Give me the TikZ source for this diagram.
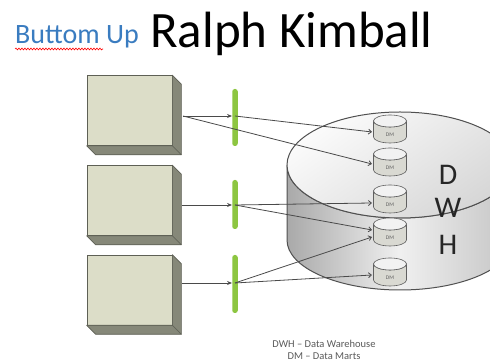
\documentclass[tikz,border=0pt]{standalone}
\usepackage{fontspec}
\setmainfont{Carlito}
\usetikzlibrary{arrows.meta,calc,decorations.pathmorphing}

\definecolor{titleblue}{HTML}{3A7CC0}
\definecolor{boxfront}{HTML}{DCDDC8}
\definecolor{boxside}{HTML}{868879}
\definecolor{boxline}{HTML}{5E6055}
\definecolor{bargreen}{HTML}{8DC641}
\definecolor{wire}{HTML}{4A4A4A}
\definecolor{cylline}{HTML}{505050}
\definecolor{cylleft}{HTML}{A9A9A9}
\definecolor{cylmid}{HTML}{F0F0F0}
\definecolor{cylright}{HTML}{C4C4C4}
\definecolor{toplight}{HTML}{FBFBFB}
\definecolor{topdark}{HTML}{D6D6D6}
\definecolor{dmbody}{HTML}{D9D9D2}
\definecolor{dmtop}{HTML}{F2F2F2}
\definecolor{dmline}{HTML}{606060}
\definecolor{foottext}{HTML}{5A5A5A}

\begin{document}
\begin{tikzpicture}[x=1pt,y=1pt,
  srcbox/.style={rectangle, minimum width=85pt, minimum height=70pt,
    inner sep=0pt, fill=boxfront, draw=boxline, line width=0.6pt},
  boxface/.style={fill=boxside, draw=boxline, line width=0.6pt, line join=round},
  gate/.style={rectangle, rounded corners=2.5pt, fill=bargreen,
    minimum width=5.5pt, inner sep=0pt},
  feed/.style={draw=wire, line width=0.8pt,
    -{Stealth[length=5pt,width=4pt]}},
  tap/.style={draw=wire, line width=0.8pt,
    -{Straight Barb[length=3pt,width=5pt]}},
  datamart/.style={rectangle, minimum width=35pt, minimum height=30pt,
    inner sep=0pt,
    path picture={
      \coordinate (mc) at (path picture bounding box.center);
      \filldraw[fill=dmbody, draw=dmline, line width=0.6pt]
        ([shift={(-16.5pt,8pt)}]mc) -- ++(0,-16pt)
        arc[start angle=180, end angle=360, x radius=16.5pt, y radius=6pt]
        -- ++(0,16pt)
        arc[start angle=0, end angle=-180, x radius=16.5pt, y radius=6pt]
        -- cycle;
      \filldraw[fill=dmtop, draw=dmline, line width=0.6pt]
        ([yshift=8pt]mc) ellipse[x radius=16.5pt, y radius=6pt];
    }},
  dmlabel/.style={inner sep=0pt, text=dmline, font=\fontsize{5.5}{6}\selectfont},
  dwhletter/.style={inner sep=0pt, text=black!85, font=\fontsize{30}{32}\selectfont},
  foot/.style={inner sep=0pt, text=foottext, font=\fontsize{10.5}{11}\selectfont}
]
\clip (0,0) rectangle (490,363);
\fill[white] (0,0) rectangle (490,363);

% heading
\node[anchor=base west, inner sep=0pt, text=titleblue,
      font=\fontsize{28}{30}\selectfont] (sub) at (15,319) {Buttom Up};
\node[anchor=base west, inner sep=0pt,
      font=\fontsize{51}{52}\selectfont] (ttl) at (150,315) {Ralph Kimball};
\draw[red, line width=0.6pt, decorate,
      decoration={snake, amplitude=0.9pt, segment length=3pt}]
  ([yshift=-5pt]sub.base west) -- ++(88,0);

% data warehouse drum
\path[draw=cylline, line width=1pt, left color=cylleft, right color=cylright,
      middle color=cylmid]
  (287,198) -- (287,123)
  arc[start angle=180, end angle=360, x radius=113pt, y radius=50pt]
  -- (513,198)
  arc[start angle=0, end angle=-180, x radius=113pt, y radius=53pt]
  -- cycle;
\path[draw=cylline, line width=1pt, top color=toplight, bottom color=topdark,
      shading angle=35]
  (400,198) ellipse[x radius=113pt, y radius=53pt];

\node[dwhletter] (ltrD) at (448,188) {D};
\node[dwhletter] (ltrW) at (448,155) {W};
\node[dwhletter] (ltrH) at (448,118) {H};

% data marts
\foreach \i/\cy in {1/234, 2/201, 3/164, 4/131, 5/91} {
  \node[datamart] (dm\i) at (390,\cy) {};
  \node[dmlabel] (dm\i t) at ([yshift=-6pt]dm\i.center) {DM};
}

% source systems
\foreach \i/\cy in {1/252.5, 2/162.5, 3/73} {
  \node[srcbox] (b\i) at (129.5,\cy) {};
  \path[boxface] (b\i.north east) -- ++(9,-9)
    -- ($(b\i.south east)+(9,-9)$) -- (b\i.south east) -- cycle;
  \path[boxface] (b\i.south west) -- (b\i.south east)
    -- ++(9,-9) -- ($(b\i.south west)+(9,-9)$) -- cycle;
}
\coordinate (b1out) at (183,247);
\coordinate (b2out) at (182,158);
\coordinate (b3out) at (182,80);

% staging bars
\node[gate, minimum height=57pt] (bar1) at (235,245.5) {};
\node[gate, minimum height=49pt] (bar2) at (235,158.5) {};
\node[gate, minimum height=58pt] (bar3) at (235,79) {};

\coordinate (t1) at (bar1 |- b1out);
\coordinate (t2) at (bar2 |- b2out);
\coordinate (t3) at (bar3 |- b3out);

% loads into the staging bars
\draw[feed] (b1out) -- (b1out -| bar1.west);
\draw[feed] (b2out) -- (b2out -| bar2.west);
\draw[feed] (b3out) -- (b3out -| bar3.west);

% loads into the data marts
\draw[tap] (t1) -- ([xshift=-18pt,yshift=-3pt]dm1.center);
\draw[tap] (b1out) -- ([xshift=-18pt,yshift=-2pt]dm2.center);
\draw[tap] (t2) -- ([xshift=-18pt,yshift=-4pt]dm3.center);
\draw[tap] (t2) -- ([xshift=-18pt,yshift=2pt]dm4.center);
\draw[tap] (t3) -- ([xshift=-18pt,yshift=-5pt]dm4.center);
\draw[tap] (t3) -- ([xshift=-18pt,yshift=-3pt]dm5.center);

% legend
\node[foot] (leg1) at (324,19) {DWH – Data Warehouse};
\node[foot] (leg2) at (324,7) {DM – Data Marts};
\end{tikzpicture}
\end{document}
